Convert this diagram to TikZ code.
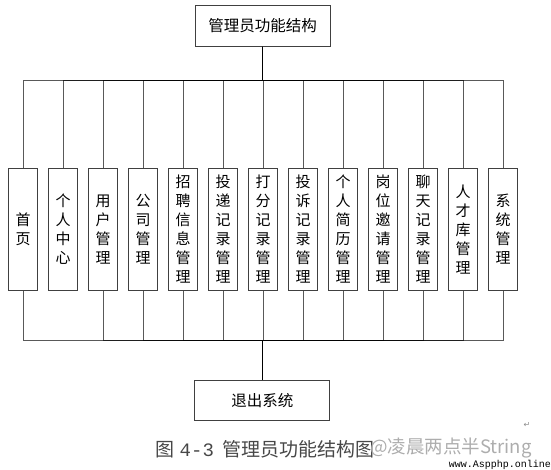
\documentclass[tikz,border=0pt]{standalone}
\usepackage{fontspec}
\setmainfont{Liberation Sans}
\newfontfamily\cjk{Noto Sans CJK SC}
\newfontfamily\dejavu{DejaVu Sans}
\newfontfamily\monofnt{Liberation Mono}
\begin{document}
\begin{tikzpicture}[x=1pt,y=-1pt,
  childbox/.style={draw=black!75, line width=1pt, fill=white, minimum width=29.4pt,
    minimum height=122.4pt, inner sep=0pt, align=center,
    font=\cjk\fontsize{15}{19}\selectfont},
  mainbox/.style={draw=black!75, line width=1pt, fill=white, minimum width=135pt,
    minimum height=40.3pt, inner sep=0pt, font=\cjk\fontsize{15.5}{18}\selectfont},
  conn/.style={draw=black, line width=0.9pt, draw opacity=0.65}]
\useasboundingbox (0,0) rectangle (551,469);

\node[mainbox] (root) at (262.5,25.9) {管理员功能结构};
\node[mainbox] (exit) at (262.3,400.7) {退出系统};

\node[childbox] (c1) at (23.2,229.5) {首\\页};
\node[childbox] (c2) at (63.2,229.5) {个\\人\\中\\心};
\node[childbox] (c3) at (103.2,229.5) {用\\户\\管\\理};
\node[childbox] (c4) at (143.2,229.5) {公\\司\\管\\理};
\node[childbox] (c5) at (183.2,229.5) {招\\聘\\信\\息\\管\\理};
\node[childbox] (c6) at (223.2,229.5) {投\\递\\记\\录\\管\\理};
\node[childbox] (c7) at (263.2,229.5) {打\\分\\记\\录\\管\\理};
\node[childbox] (c8) at (303.2,229.5) {投\\诉\\记\\录\\管\\理};
\node[childbox] (c9) at (343.2,229.5) {个\\人\\简\\历\\管\\理};
\node[childbox] (c10) at (383.2,229.5) {岗\\位\\邀\\请\\管\\理};
\node[childbox] (c11) at (423.2,229.5) {聊\\天\\记\\录\\管\\理};
\node[childbox] (c12) at (463.2,229.5) {人\\才\\库\\管\\理};
\node[childbox] (c13) at (503.2,229.5) {系\\统\\管\\理};

\coordinate (tb) at (262.5,80.7);
\coordinate (bb) at (262.3,340);

\foreach \i in {1,...,13}{
  \draw[conn] (root.south) -- (tb) -| (c\i.north);
}
\foreach \i in {1,3,4,5,6,7,8,9,10,11,12,13}{
  \draw[conn] (c\i.south) |- (bb) -- (exit.north);
}

\node[anchor=west, inner sep=0pt, text=black!72, font=\cjk\fontsize{19}{19}\selectfont] (cap) at (155.5,449)
  {图\hspace{5pt}{\monofnt 4-3}\hspace{9pt}管理员功能结构图};
\node[anchor=west, inner sep=0pt, text=black!32, font=\cjk\fontsize{18.5}{18.5}\selectfont] (wm) at (370,448.5)
  {@凌晨两点半String};
\node[anchor=east, inner sep=0pt, text=black, font=\monofnt\fontsize{10}{10}\selectfont] (site) at (551,464.5)
  {www.Aspphp.online};
\node[inner sep=0pt, text=black!45, font=\dejavu\fontsize{8}{8}\selectfont] (ret) at (527,425) {↵};
\end{tikzpicture}
\end{document}
